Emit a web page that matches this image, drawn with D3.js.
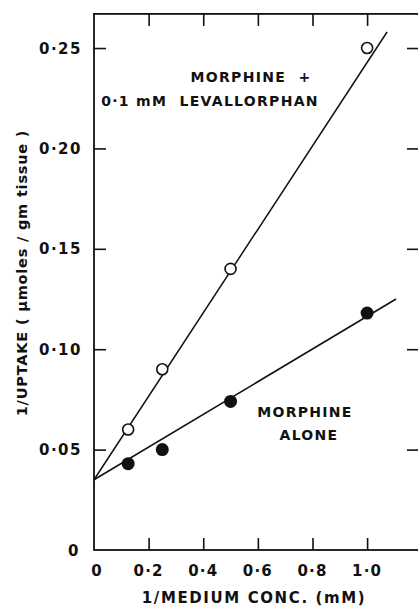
<!DOCTYPE html>
<html>
<head>
<meta charset="utf-8">
<script src="https://cdn.jsdelivr.net/npm/d3@7"></script>
<style>
  html, body { margin: 0; padding: 0; background: #fff; }
  svg { display: block; }
  text { font-family: "DejaVu Sans", sans-serif; font-weight: bold; fill: #111; white-space: pre; }
</style>
</head>
<body>
<svg id="chart" width="418" height="606"></svg>
<script>
// ---- data ----
const xOpen = [0.125, 0.25, 0.5, 1.0];
const yOpen = [0.060, 0.090, 0.140, 0.250];      // morphine + 0.1 mM levallorphan
const xFilled = [0.125, 0.25, 0.5, 1.0];
const yFilled = [0.043, 0.050, 0.074, 0.118];    // morphine alone
const lineOpen = [[0, 0.035], [1.073, 0.258]];
const lineFilled = [[0, 0.035], [1.106, 0.125]];
const xTicks = [0, 0.2, 0.4, 0.6, 0.8, 1.0];
const xTickLabels = ["0", "0·2", "0·4", "0·6", "0·8", "1·0"];
const yTicks = [0, 0.05, 0.10, 0.15, 0.20, 0.25];
const yTickLabels = ["0", "0·05", "0·10", "0·15", "0·20", "0·25"];

const svg = d3.select("#chart");
const x = d3.scaleLinear().domain([0, 1.19]).range([94, 419]);
const y = d3.scaleLinear().domain([0, 0.267]).range([550, 13.9]);

const ink = "#111";

// frame
svg.append("rect")
  .attr("x", x(0)).attr("y", y(0.267))
  .attr("width", x(1.19) - x(0)).attr("height", y(0) - y(0.267))
  .attr("fill", "none").attr("stroke", ink).attr("stroke-width", 1.8);

// inward ticks
const tl = 12;
const xt = xTicks.filter(d => d > 0);
svg.append("g").call(d3.axisTop(x).tickValues(xt).tickSize(tl).tickFormat(""))
  .attr("transform", `translate(0,${y(0)})`)
  .call(g => g.select(".domain").remove())
  .call(g => g.selectAll("line").attr("stroke", ink).attr("stroke-width", 1.6));
svg.append("g").call(d3.axisBottom(x).tickValues(xt).tickSize(tl).tickFormat(""))
  .attr("transform", `translate(0,${y(0.267)})`)
  .call(g => g.select(".domain").remove())
  .call(g => g.selectAll("line").attr("stroke", ink).attr("stroke-width", 1.6));
const yt = yTicks.filter(d => d > 0);
svg.append("g").call(d3.axisRight(y).tickValues(yt).tickSize(tl).tickFormat(""))
  .attr("transform", `translate(${x(0)},0)`)
  .call(g => g.select(".domain").remove())
  .call(g => g.selectAll("line").attr("stroke", ink).attr("stroke-width", 1.6));
svg.append("g").call(d3.axisLeft(y).tickValues(yt).tickSize(tl).tickFormat(""))
  .attr("transform", `translate(${x(1.19)},0)`)
  .call(g => g.select(".domain").remove())
  .call(g => g.selectAll("line").attr("stroke", ink).attr("stroke-width", 1.6));

// tick labels
svg.append("g").selectAll("text").data(xTicks).join("text")
  .attr("x", (d, i) => x(d) + (i === 0 ? 3 : 0))
  .attr("y", 576)
  .attr("text-anchor", "middle")
  .attr("font-size", 15)
  .attr("letter-spacing", 1.2)
  .text((d, i) => xTickLabels[i]);
svg.append("g").selectAll("text").data(yTicks).join("text")
  .attr("x", (d, i) => i === 0 ? 80 : 82)
  .attr("y", d => y(d) + 5.5)
  .attr("text-anchor", "end")
  .attr("font-size", 15)
  .attr("letter-spacing", 1.5)
  .text((d, i) => yTickLabels[i]);

// axis titles
svg.append("text")
  .attr("x", 254).attr("y", 603)
  .attr("text-anchor", "middle")
  .attr("font-size", 15)
  .attr("letter-spacing", 1.6)
  .text("1/MEDIUM CONC. (mM)");
svg.append("text")
  .attr("transform", "translate(27,273) rotate(-90)")
  .attr("text-anchor", "middle")
  .attr("font-size", 14.5)
  .attr("letter-spacing", 0.8)
  .text("1/UPTAKE ( μmoles / gm tissue )");

// fitted lines
const line = d3.line().x(d => x(d[0])).y(d => y(d[1]));
svg.append("path").datum(lineOpen).attr("d", line)
  .attr("fill", "none").attr("stroke", ink).attr("stroke-width", 1.5);
svg.append("path").datum(lineFilled).attr("d", line)
  .attr("fill", "none").attr("stroke", ink).attr("stroke-width", 1.6);

// points
svg.append("g").selectAll("circle").data(xOpen.map((d, i) => [d, yOpen[i]])).join("circle")
  .attr("cx", d => x(d[0])).attr("cy", d => y(d[1])).attr("r", 5.5)
  .attr("fill", "#fff").attr("stroke", ink).attr("stroke-width", 1.6);
svg.append("g").selectAll("circle").data(xFilled.map((d, i) => [d, yFilled[i]])).join("circle")
  .attr("cx", d => x(d[0])).attr("cy", d => y(d[1])).attr("r", 6.5)
  .attr("fill", ink);

// annotations
const ann = svg.append("g").attr("font-size", 14).attr("letter-spacing", 1.3);
ann.append("text").attr("x", 251).attr("y", 82).attr("text-anchor", "middle").text("MORPHINE  +");
ann.append("text").attr("x", 210).attr("y", 106).attr("text-anchor", "middle").text("0·1 mM  LEVALLORPHAN");
ann.append("text").attr("x", 305).attr("y", 417).attr("text-anchor", "middle").text("MORPHINE");
ann.append("text").attr("x", 309).attr("y", 440).attr("text-anchor", "middle").text("ALONE");
</script>
</body>
</html>
